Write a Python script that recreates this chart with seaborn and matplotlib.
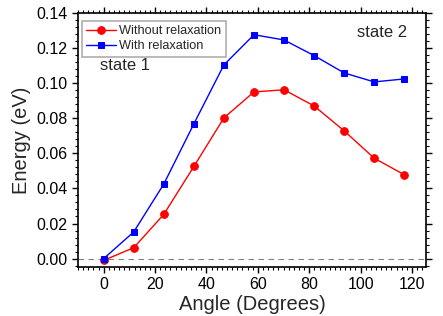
import matplotlib
matplotlib.use("Agg")
import matplotlib.pyplot as plt
from matplotlib.ticker import MultipleLocator
import seaborn as sns
import pandas as pd

angles = [0, 11.7, 23.4, 35.1, 46.8, 58.5, 70.2, 81.9, 93.6, 105.3, 117.0]
without_relax = [-0.001, 0.0062, 0.0252, 0.0525, 0.0802, 0.0950, 0.0962, 0.0870, 0.0728, 0.0572, 0.0478]
with_relax = [0.0, 0.0152, 0.0425, 0.0768, 0.1104, 0.1276, 0.1246, 0.1157, 0.1058, 0.1007, 0.1024]

sns.set_style("ticks")
plt.rcParams['font.family'] = ['Liberation Sans', 'DejaVu Sans']

df = pd.DataFrame({"Angle": angles, "without": without_relax, "with": with_relax})

fig = plt.figure(figsize=(4.43, 3.16), dpi=100)
ax = fig.add_axes([0.176, 0.155, 0.786, 0.804])

ax.axhline(0, color="gray", ls=(0, (5, 4)), lw=0.8, zorder=1)
sns.lineplot(data=df, x="Angle", y="without", color="red", marker="o", markersize=5.5,
             markeredgecolor="red", lw=1, label="Without relaxation", ax=ax)
sns.lineplot(data=df, x="Angle", y="with", color="blue", marker="s", markersize=4.5,
             markeredgecolor="blue", lw=1, label="With relaxation", ax=ax)

ax.set_xlim(-10, 125.5)
ax.set_ylim(-0.0048, 0.14)
ax.xaxis.set_major_locator(MultipleLocator(20))
ax.xaxis.set_minor_locator(MultipleLocator(2))
ax.yaxis.set_major_locator(MultipleLocator(0.02))
ax.yaxis.set_minor_locator(MultipleLocator(0.004))
ax.yaxis.set_major_formatter(plt.FormatStrFormatter("%.2f"))
ax.tick_params(which="both", direction="out", top=True, right=True, colors="black")
ax.tick_params(which="major", length=4, width=1, labelsize=11.5)
ax.tick_params(which="minor", length=2.5, width=0.8)
ax.tick_params(axis="both", which="both", labeltop=False, labelright=False)
for s in ax.spines.values():
    s.set_color("black")
    s.set_linewidth(1.2)

ax.set_xlabel("Angle (Degrees)", fontsize=14.5, labelpad=2)
ax.set_ylabel("Energy (eV)", fontsize=14.5, labelpad=4)

ax.text(0.063, 0.776, "state 1", transform=ax.transAxes, fontsize=12)
ax.text(0.80, 0.905, "state 2", transform=ax.transAxes, fontsize=12)

leg = ax.legend(loc="upper left", bbox_to_anchor=(0.0, 0.985), fontsize=9.2,
                frameon=True, fancybox=False, shadow=False, borderpad=0.35,
                handlelength=2.3, handletextpad=0.3, labelspacing=0.25, borderaxespad=0.3)
leg.get_frame().set_edgecolor("#999999")
leg.get_frame().set_linewidth(1.2)

fig.savefig("out.png", dpi=100)
